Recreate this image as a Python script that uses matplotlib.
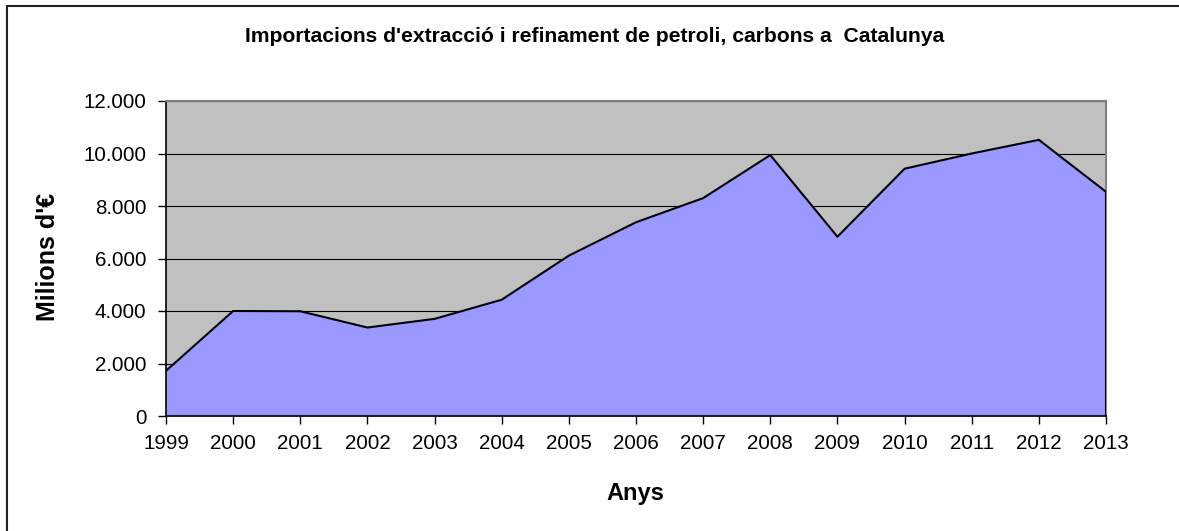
import matplotlib
matplotlib.use("Agg")
import matplotlib.pyplot as plt
from matplotlib.patches import Rectangle
from matplotlib.ticker import FuncFormatter

years = ['1999', '2000', '2001', '2002', '2003', '2004', '2005', '2006',
         '2007', '2008', '2009', '2010', '2011', '2012', '2013']
imports = [1720, 4000, 3990, 3370, 3700, 4430, 6110, 7380,
           8300, 9940, 6830, 9420, 10000, 10520, 8540]
y_ticks = [0, 2000, 4000, 6000, 8000, 10000, 12000]

plt.rcParams['font.family'] = ['Liberation Sans', 'DejaVu Sans']

W, H = 1179, 531
fig = plt.figure(figsize=(W / 100, H / 100), dpi=100)
ax = fig.add_axes([166 / W, 1 - 416 / H, 940 / W, 315 / H])

x = list(range(len(years)))
ax.set_facecolor('#c0c0c0')
ax.fill_between(x, imports, 0, color='#9999ff', zorder=2, linewidth=0)
ax.plot(x, imports, color='black', linewidth=1.5, zorder=3)
ax.plot([x[-1], x[-1]], [0, imports[-1]], color='black', linewidth=1.5, zorder=3)

ax.set_xlim(0, len(years) - 1)
ax.set_ylim(0, 12000)
ax.set_xticks(x)
ax.set_xticklabels(years)
ax.set_yticks(y_ticks)
ax.yaxis.set_major_formatter(FuncFormatter(lambda v, p: f"{int(v):,}".replace(',', '.')))
ax.grid(axis='y', color='black', linewidth=0.8, zorder=1)
ax.set_axisbelow(True)

ax.tick_params(axis='both', direction='out', length=6, width=1, labelsize=14.8, colors='black')
ax.tick_params(axis='x', pad=7)
ax.tick_params(axis='y', pad=8)
for side in ['left', 'bottom']:
    ax.spines[side].set_color('black')
    ax.spines[side].set_linewidth(1.2)
for side in ['top', 'right']:
    ax.spines[side].set_color('#808080')
    ax.spines[side].set_linewidth(1.5)

fig.text(595 / W, 1 - 42 / H, "Importacions d'extracció i refinament de petroli, carbons a  Catalunya",
         ha='center', va='baseline', fontsize=15.2, fontweight='bold')
fig.text(48 / W, 1 - 257 / H, "Milions d'€", rotation=90, ha='center', va='center',
         fontsize=18, fontweight='bold')
fig.text(635 / W, 1 - 500 / H, "Anys", ha='center', va='baseline',
         fontsize=17, fontweight='bold')

# chart border (runs off the right and bottom edges in the reference)
fig.patches.append(Rectangle((7 / W, -0.1), 1.2, 1 - 6 / H + 0.1, transform=fig.transFigure,
                             fill=False, edgecolor='#202020', linewidth=1.5))

fig.savefig('out.png', dpi=100)
